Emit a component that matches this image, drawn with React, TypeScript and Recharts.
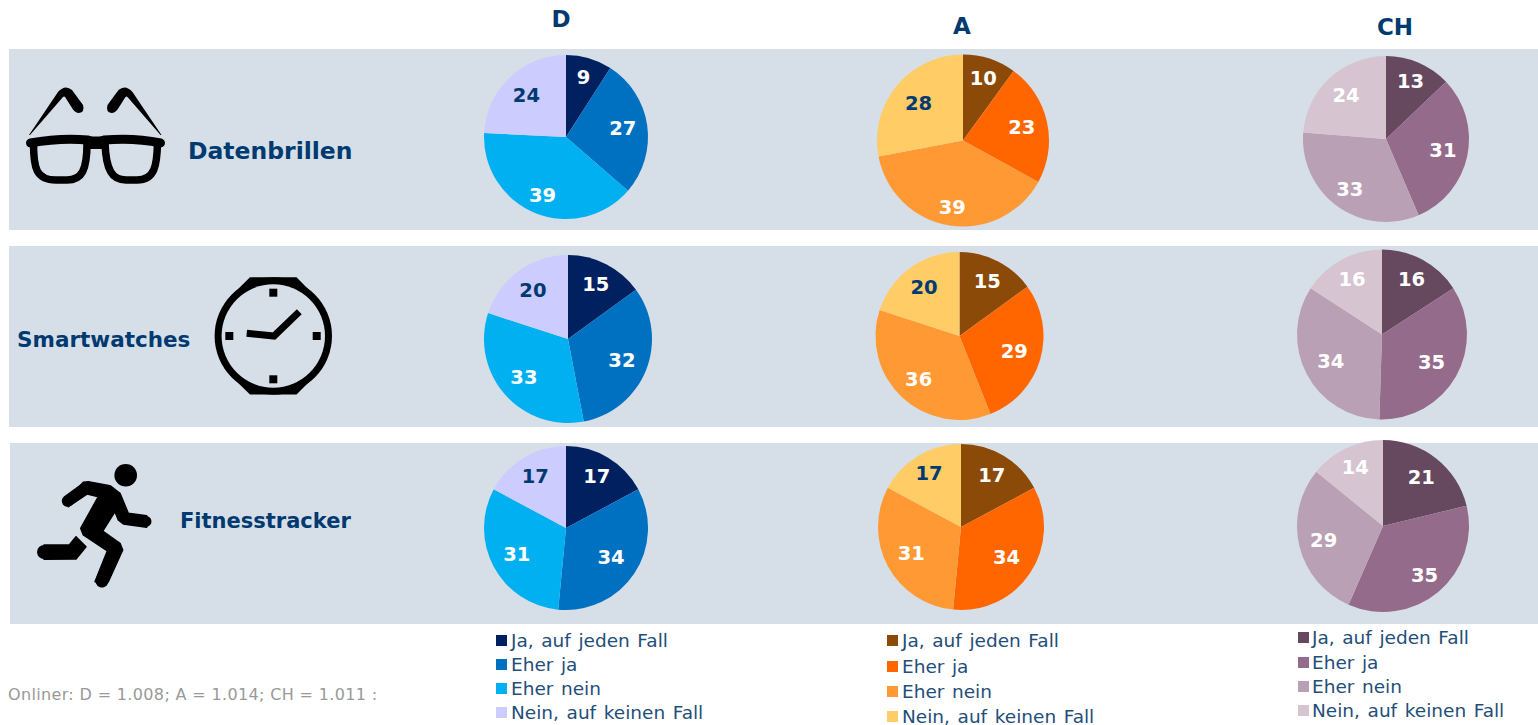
import { PieChart, Pie, Cell } from 'recharts';

const ANSWERS = ['Ja, auf jeden Fall', 'Eher ja', 'Eher nein', 'Nein, auf keinen Fall'];

const D_BRILLEN = [9, 27, 39, 24];
const D_WATCH = [15, 32, 33, 20];
const D_TRACKER = [17, 34, 31, 17];
const A_BRILLEN = [10, 23, 39, 28];
const A_WATCH = [15, 29, 36, 20];
const A_TRACKER = [17, 34, 31, 17];
const CH_BRILLEN = [13, 31, 33, 24];
const CH_WATCH = [16, 35, 34, 16];
const CH_TRACKER = [21, 35, 29, 14];

const D_COLORS = ['#002060', '#0070C0', '#00B0F0', '#CCCCFF'];
const A_COLORS = ['#8B4A08', '#FF6600', '#FF9933', '#FFCC66'];
const CH_COLORS = ['#66485F', '#956B8B', '#BAA0B5', '#D6C5D1'];

const NAVY = '#003A70';
const BAND = '#D6DFE7';
const FONT = '"DejaVu Sans", Verdana, sans-serif';

const toRows = (values: number[]) => values.map((value, i) => ({ name: ANSWERS[i], value }));

// cx, cy, r per pie; label radius as a share of r per slice
const PIES = [
  { key: 'd1', values: D_BRILLEN, colors: D_COLORS, cx: 566, cy: 137, r: 82, lr: [0.76, 0.7, 0.77, 0.7], dark: [3] },
  { key: 'd2', values: D_WATCH, colors: D_COLORS, cx: 568, cy: 339, r: 84, lr: [0.73, 0.69, 0.7, 0.71], dark: [3] },
  { key: 'd3', values: D_TRACKER, colors: D_COLORS, cx: 566, cy: 528, r: 82, lr: [0.73, 0.66, 0.68, 0.73], dark: [3] },
  { key: 'a1', values: A_BRILLEN, colors: A_COLORS, cx: 963, cy: 140.5, r: 86, lr: [0.76, 0.7, 0.79, 0.67], dark: [3] },
  { key: 'a2', values: A_WATCH, colors: A_COLORS, cx: 959.5, cy: 336, r: 84, lr: [0.73, 0.68, 0.71, 0.72], dark: [3] },
  { key: 'a3', values: A_TRACKER, colors: A_COLORS, cx: 961, cy: 527, r: 83, lr: [0.72, 0.66, 0.68, 0.75], dark: [3] },
  { key: 'c1', values: CH_BRILLEN, colors: CH_COLORS, cx: 1386, cy: 139, r: 83, lr: [0.75, 0.7, 0.75, 0.71], dark: [] },
  { key: 'c2', values: CH_WATCH, colors: CH_COLORS, cx: 1382, cy: 334.5, r: 85, lr: [0.73, 0.67, 0.68, 0.74], dark: [] },
  { key: 'c3', values: CH_TRACKER, colors: CH_COLORS, cx: 1383, cy: 526, r: 86, lr: [0.72, 0.75, 0.71, 0.75], dark: [] },
];

const BANDS = [
  { left: 9, top: 49, height: 181 },
  { left: 9, top: 246, height: 181 },
  { left: 10, top: 443, height: 181 },
];

const TITLES = [
  { text: 'D', x: 561, y: 19 },
  { text: 'A', x: 962, y: 26 },
  { text: 'CH', x: 1395, y: 27 },
];

const ROW_NAMES = [
  { text: 'Datenbrillen', x: 188, y: 150.5, size: 23.5 },
  { text: 'Smartwatches', x: 17, y: 339, size: 21.5 },
  { text: 'Fitnesstracker', x: 180, y: 521, size: 21 },
];

const LEGENDS = [
  { colors: D_COLORS, x: 496, tx: 511, ys: [640, 664, 688, 712] },
  { colors: A_COLORS, x: 887, tx: 902, ys: [640, 666, 691, 716] },
  { colors: CH_COLORS, x: 1298, tx: 1312, ys: [637, 662, 686, 710] },
];

function sliceLabel(radii: number[], dark: number[]) {
  return (props: any) => {
    const { cx, cy, midAngle, outerRadius, value, index } = props;
    const rad = (-midAngle * Math.PI) / 180;
    const dist = outerRadius * radii[index];
    return (
      <text
        x={cx + dist * Math.cos(rad)}
        y={cy + dist * Math.sin(rad)}
        textAnchor="middle"
        dominantBaseline="central"
        fill={dark.includes(index) ? NAVY : '#fff'}
        fontFamily={FONT}
        fontWeight="bold"
        fontSize={19.5}
      >
        {value}
      </text>
    );
  };
}

function Icons() {
  const temple = 'M29,135 L58,92 Q65,84 72,90 L83,105 Q85,112 79,113 Q75,113 72,108 L65,97 Q64,96 63,97 L30,135 Z';
  return (
    <svg width={1538} height={725} style={{ position: 'absolute', left: 0, top: 0 }}>
      {/* glasses */}
      <g fill="none" stroke="#000" strokeLinecap="round">
        <path d="M30.5,143 Q60,137.5 88,140 Q96,142 104,140 Q135,137.5 160.5,143" strokeWidth={9} />
        <path d="M33.5,143 C33.5,168 36,180 56,180 L67,180 C82,180 87,170 87,143" strokeWidth={7.5} />
        <path d="M105,143 C106,170 112,180 126,180 L137,180 C155,180 157,165 157.5,143" strokeWidth={7.5} />
        <path d="M88,145 L104,145" strokeWidth={8} />
      </g>
      <path d={temple} />
      <path d={temple} transform="translate(190.5,0) scale(-1,1)" />

      {/* watch */}
      <polygon points="250,277.3 296.5,277.3 316,297 230,297" />
      <polygon points="250,394.5 296.5,394.5 316,375 230,375" />
      <circle cx={273.3} cy={336} r={58.7} />
      <circle cx={273.3} cy={336} r={51.7} fill={BAND} />
      <rect x={269.3} y={288.7} width={8} height={8} />
      <rect x={269.3} y={375.3} width={8} height={8} />
      <rect x={225.3} y={332} width={8} height={8} />
      <rect x={312.7} y={332} width={8} height={8} />
      <polyline points="246.7,333.3 274,336 299.3,311.7" fill="none" stroke="#000" strokeWidth={7} />

      {/* runner */}
      <circle cx={125.7} cy={475.3} r={11.3} />
      <g stroke="#000" strokeWidth={1.5} strokeLinejoin="round">
        <polygon points="66,502 83.3,482.3 88.3,481.7 110,485.7 120,493.3 128.3,513.3 146.7,515.7 146.7,527.3 123.3,524 118.3,520 115,511.7 102.7,531 120,543.3 122.7,550 108.3,581.7 95,581.7 107.3,551 83.3,535 80.7,528.3 98.3,496.7 87.3,494 68.3,506.7" />
        <polygon points="44,552 44,545 69.3,545 76,536.7 86,546.7 76,559 44,559.3" />
      </g>
      <g fill="none" stroke="#000" strokeLinecap="round">
        <line x1={67.5} y1={501} x2={84} y2={489} strokeWidth={11.5} />
        <line x1={126} y1={519} x2={146} y2={521.5} strokeWidth={11} />
        <line x1={115} y1={550} x2={102} y2={581} strokeWidth={13} />
        <line x1={44} y1={552} x2={70} y2={552} strokeWidth={14} />
      </g>
    </svg>
  );
}

export default function App() {
  return (
    <div style={{ position: 'absolute', left: 0, top: 0, width: 1538, height: 725, overflow: 'hidden', background: '#fff', fontFamily: FONT }}>
      {BANDS.map((b) => (
        <div key={b.top} style={{ position: 'absolute', left: b.left, top: b.top, right: 0, height: b.height, background: BAND }} />
      ))}

      <Icons />

      <div style={{ position: 'absolute', left: 0, top: 0 }}>
        <PieChart width={1538} height={725} margin={{ top: 0, right: 0, bottom: 0, left: 0 }}>
          {PIES.map((p) => (
            <Pie
              key={p.key}
              data={toRows(p.values)}
              dataKey="value"
              nameKey="name"
              cx={p.cx}
              cy={p.cy}
              outerRadius={p.r}
              startAngle={90}
              endAngle={-270}
              stroke="none"
              labelLine={false}
              label={sliceLabel(p.lr, p.dark)}
              isAnimationActive={false}
            >
              {p.colors.map((c) => (
                <Cell key={c} fill={c} />
              ))}
            </Pie>
          ))}
        </PieChart>
      </div>

      {TITLES.map((t) => (
        <div key={t.text} style={{ position: 'absolute', left: t.x, top: t.y, transform: 'translate(-50%,-50%)', color: NAVY, fontWeight: 'bold', fontSize: 23 }}>
          {t.text}
        </div>
      ))}

      {ROW_NAMES.map((t) => (
        <div key={t.text} style={{ position: 'absolute', left: t.x, top: t.y, transform: 'translateY(-50%)', color: NAVY, fontWeight: 'bold', fontSize: t.size, whiteSpace: 'nowrap' }}>
          {t.text}
        </div>
      ))}

      {LEGENDS.map((l) =>
        ANSWERS.map((a, i) => (
          <div key={l.x + a}>
            <div style={{ position: 'absolute', left: l.x, top: l.ys[i] - 5.5, width: 11, height: 11, background: l.colors[i] }} />
            <div style={{ position: 'absolute', left: l.tx, top: l.ys[i], transform: 'translateY(-50%)', color: '#1F4E79', fontSize: 18.5, wordSpacing: 1.7, whiteSpace: 'nowrap' }}>
              {a}
            </div>
          </div>
        )),
      )}

      <div style={{ position: 'absolute', left: 8, top: 694, transform: 'translateY(-50%)', color: '#999', fontSize: 16, letterSpacing: 0.35, whiteSpace: 'nowrap' }}>
        Onliner: D = 1.008; A = 1.014; CH = 1.011 :
      </div>
    </div>
  );
}
